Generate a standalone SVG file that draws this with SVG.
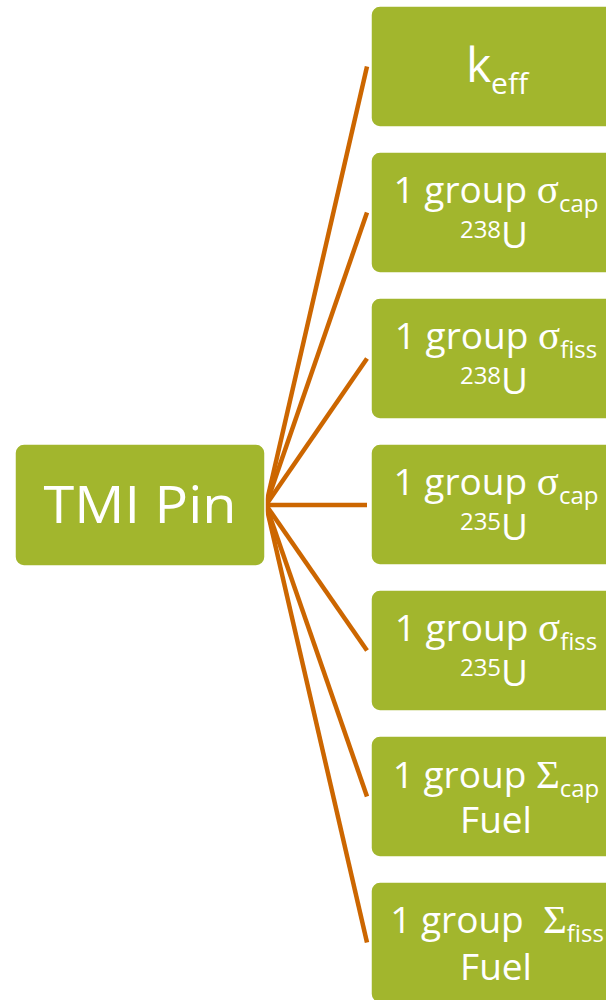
<svg xmlns="http://www.w3.org/2000/svg" width="606" height="1000" viewBox="0 0 606 1000">
  <style>
    .box { fill: #A2B62D; stroke: #ffffff; stroke-width: 1.5; }
    .edge { stroke: #CC6600; stroke-width: 4.5; fill: none; }
    .t { font-family: "Open Sans", "Liberation Sans", sans-serif; fill: #ffffff; text-anchor: middle; }
    .l1 { font-size: 37px; }
    .sub { font-size: 24px; }
    .g { font-family: "Liberation Serif", serif; font-size: 41px; }
  </style>
  <rect width="606" height="1000" fill="#ffffff"/>

  <!-- connectors from the root to each item -->
  <g id="connectors">
    <line class="edge" x1="266" y1="505" x2="367" y2="66.5"/>
    <line class="edge" x1="266" y1="505" x2="367" y2="212.5"/>
    <line class="edge" x1="266" y1="505" x2="367" y2="358.5"/>
    <line class="edge" x1="266" y1="505" x2="367" y2="505"/>
    <line class="edge" x1="266" y1="505" x2="367" y2="650.5"/>
    <line class="edge" x1="266" y1="505" x2="367" y2="796.5"/>
    <line class="edge" x1="266" y1="505" x2="367" y2="942.5"/>
  </g>

  <g id="root">
    <rect class="box" x="15" y="444" width="250" height="122" rx="9"/>
    <text class="t" x="140" y="523" font-size="52" textLength="193" lengthAdjust="spacingAndGlyphs">TMI Pin</text>
  </g>

  <g id="keff">
    <rect class="box" x="371" y="6" width="250" height="121" rx="9"/>
    <text class="t" x="497" y="82" font-size="48">k<tspan dy="12" font-size="30">eff</tspan></text>
  </g>

  <g id="cap238">
    <rect class="box" x="371" y="152" width="250" height="121" rx="9"/>
    <text class="t l1" x="496" y="203">1 group <tspan class="g">σ</tspan><tspan class="sub" dy="9">cap</tspan></text>
    <text class="t l1" x="494" y="248"><tspan class="sub" dy="-10">238</tspan><tspan dy="10">U</tspan></text>
  </g>

  <g id="fiss238">
    <rect class="box" x="371" y="298" width="250" height="121" rx="9"/>
    <text class="t l1" x="496" y="349">1 group <tspan class="g">σ</tspan><tspan class="sub" dy="9">fiss</tspan></text>
    <text class="t l1" x="494" y="394"><tspan class="sub" dy="-10">238</tspan><tspan dy="10">U</tspan></text>
  </g>

  <g id="cap235">
    <rect class="box" x="371" y="444" width="250" height="121" rx="9"/>
    <text class="t l1" x="496" y="495">1 group <tspan class="g">σ</tspan><tspan class="sub" dy="9">cap</tspan></text>
    <text class="t l1" x="494" y="540"><tspan class="sub" dy="-10">235</tspan><tspan dy="10">U</tspan></text>
  </g>

  <g id="fiss235">
    <rect class="box" x="371" y="590" width="250" height="121" rx="9"/>
    <text class="t l1" x="496" y="641">1 group <tspan class="g">σ</tspan><tspan class="sub" dy="9">fiss</tspan></text>
    <text class="t l1" x="494" y="686"><tspan class="sub" dy="-10">235</tspan><tspan dy="10">U</tspan></text>
  </g>

  <g id="capFuel">
    <rect class="box" x="371" y="736" width="250" height="121" rx="9"/>
    <text class="t l1" x="496" y="788">1 group <tspan class="g">Σ</tspan><tspan class="sub" dy="9">cap</tspan></text>
    <text class="t l1" x="496" y="833">Fuel</text>
  </g>

  <g id="fissFuel">
    <rect class="box" x="371" y="882" width="250" height="121" rx="9"/>
    <text class="t l1" x="497" y="933" xml:space="preserve">1 group  <tspan class="g">Σ</tspan><tspan class="sub" dy="9">fiss</tspan></text>
    <text class="t l1" x="496" y="980">Fuel</text>
  </g>
</svg>
